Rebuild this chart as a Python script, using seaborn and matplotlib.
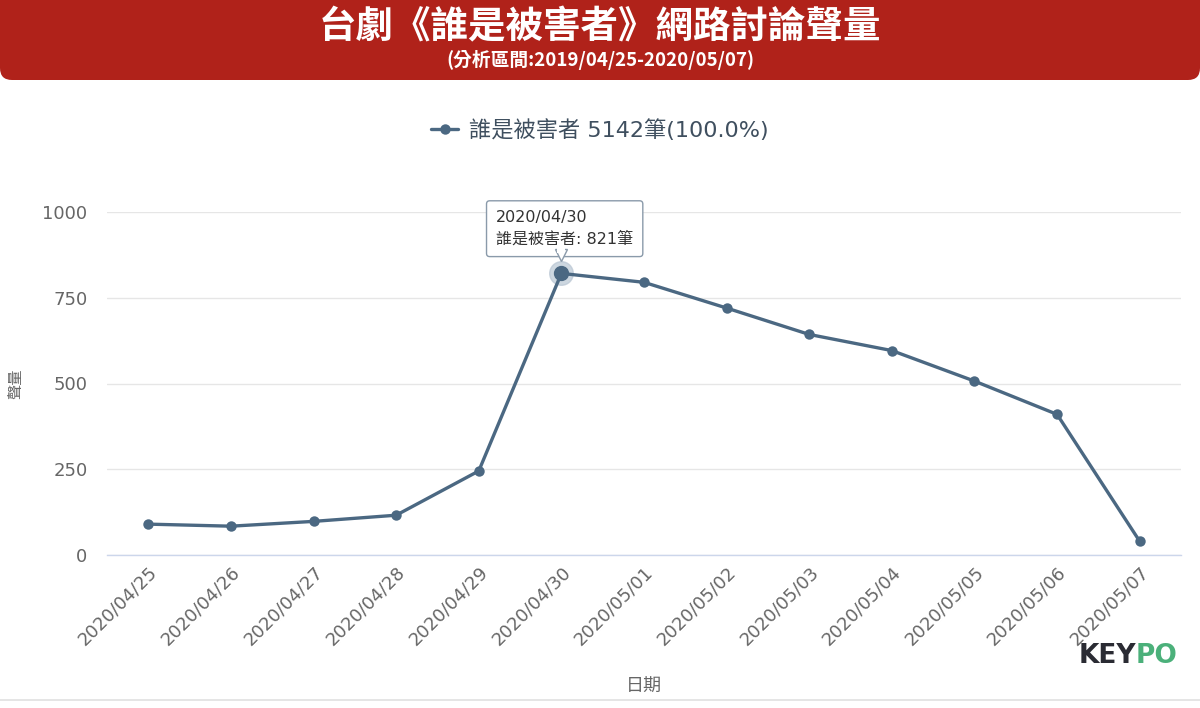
import matplotlib
matplotlib.use("Agg")
import matplotlib.pyplot as plt
from matplotlib.patches import FancyBboxPatch
from matplotlib.ticker import FixedLocator
from matplotlib.lines import Line2D
from matplotlib.transforms import ScaledTranslation
import pandas as pd
import seaborn as sns

# data
dates = ['2020/04/25', '2020/04/26', '2020/04/27', '2020/04/28', '2020/04/29',
         '2020/04/30', '2020/05/01', '2020/05/02', '2020/05/03', '2020/05/04',
         '2020/05/05', '2020/05/06', '2020/05/07']
volume = [90, 84, 98, 116, 245, 821, 795, 720, 643, 596, 507, 410, 40]
series_name = '誰是被害者'
total = 5142
peak_idx = 5

title = '台劇《誰是被害者》網路討論聲量'
subtitle = '(分析區間:2019/04/25-2020/05/07)'

line_color = '#4b6882'
text_gray = '#666666'

sns.set_style('white')
plt.rcParams['font.family'] = ['DejaVu Sans', 'Noto Sans CJK TC']

df = pd.DataFrame({'日期': dates, '聲量': volume})

fig = plt.figure(figsize=(12, 7.08), dpi=100)
ax = fig.add_axes([107 / 1200, 1 - 555 / 708, 1074 / 1200, 343 / 708])

sns.lineplot(data=df, x='日期', y='聲量', ax=ax, color=line_color,
             linewidth=2.4, marker='o', markersize=7.5, markeredgewidth=0,
             label=series_name)

# hover halo on peak
ax.plot(peak_idx, volume[peak_idx], 'o', markersize=17, color='#b9c6d3',
        alpha=0.7, zorder=1)
ax.plot(peak_idx, volume[peak_idx], 'o', markersize=10, color=line_color,
        zorder=4)

ax.set_xlim(-0.5, len(dates) - 0.5)
ax.set_ylim(0, 1000)
ax.set_yticks([0, 250, 500, 750, 1000])
ax.yaxis.grid(True, color='#e6e6e6', linewidth=1)
ax.xaxis.grid(False)
for s in ['top', 'right', 'left']:
    ax.spines[s].set_visible(False)
ax.spines['bottom'].set_color('#ccd6eb')
ax.spines['bottom'].set_linewidth(1)

ax.tick_params(axis='y', length=0, labelsize=13, labelcolor=text_gray, pad=14)
ax.tick_params(axis='x', which='major', length=0, labelsize=13,
               labelcolor=text_gray, pad=6)
ax.xaxis.set_minor_locator(FixedLocator([i - 0.5 for i in range(len(dates) + 1)]))
ax.tick_params(axis='x', which='minor', length=10, color='#ccd6eb', width=1)
plt.setp(ax.get_xticklabels(), rotation=45, ha='right', rotation_mode='anchor')

ax.set_xlabel('日期', fontsize=13, color=text_gray,
              family=['Noto Sans CJK TC'])
ax.xaxis.set_label_coords(0.5, -(687 - 555) / 343, transform=ax.transAxes)
ax.xaxis.label.set_va('center')
ax.set_ylabel('聲量', fontsize=11, color=text_gray,
              family=['Noto Sans CJK TC'])
ax.yaxis.set_label_coords(-0.077, 0.5)

# legend
handle = Line2D([], [], color=line_color, linewidth=2.4, marker='o',
                markersize=7.5, markeredgewidth=0)
leg = ax.legend([handle], [f'{series_name} {total}筆(100.0%)'], loc='center',
                bbox_to_anchor=(0.5, 1 - 130 / 708), bbox_transform=fig.transFigure,
                frameon=False, fontsize=16, handlelength=1.2, handletextpad=0.5)
for t in leg.get_texts():
    t.set_color('#3f4f5f')

# tooltip
ax.annotate(f'{dates[peak_idx]}\n{series_name}: {volume[peak_idx]}筆',
            xy=(peak_idx, volume[peak_idx]), xytext=(-47, 19),
            textcoords='offset points', fontsize=11.5, color='#333333',
            linespacing=1.5, va='bottom', ha='left',
            bbox=dict(boxstyle='round,pad=0.6,rounding_size=0.2',
                      fc='white', ec='#8a9aaa', lw=1),
            zorder=6)
# tooltip pointer
ax.plot(peak_idx, volume[peak_idx], marker='v', markersize=9, color='white',
        markeredgecolor='#8a9aaa', markeredgewidth=1, zorder=7, linestyle='none',
        transform=ax.transData + ScaledTranslation(0, 13.5 / 72, fig.dpi_scale_trans))
ax.plot(peak_idx, volume[peak_idx], marker='s', markersize=6, color='white',
        markeredgewidth=0, zorder=8, linestyle='none',
        transform=ax.transData + ScaledTranslation(0, 17.5 / 72, fig.dpi_scale_trans))

# red header banner
banner = FancyBboxPatch((0.0, 7.08 - 0.80), 12.0, 1.6,
                        boxstyle='round,pad=0,rounding_size=0.12',
                        transform=fig.dpi_scale_trans, fc='#b0221a', ec='none',
                        zorder=0)
fig.patches.append(banner)
fig.text(0.5, 1 - 27 / 708, title, ha='center', va='center', color='white',
         fontsize=27, fontweight='bold', family=['Noto Sans CJK TC'])
fig.text(0.5, 1 - 60 / 708, subtitle, ha='center', va='center', color='white',
         fontsize=13.5, fontweight='bold', family=['Noto Sans CJK TC'])

# bottom rule
fig.add_artist(Line2D([0, 1], [1 - 700 / 708] * 2, transform=fig.transFigure,
                      color='#e0e0e0', linewidth=1.2))

# logo
fig.text(1136 / 1200, 1 - 656 / 708, 'KEY', ha='right', va='center',
         color='#2a2b33', fontsize=19, fontweight='bold', family=['DejaVu Sans'])
fig.text(1136 / 1200, 1 - 656 / 708, 'PO', ha='left', va='center',
         color='#4bb07a', fontsize=19, fontweight='bold', family=['DejaVu Sans'])

fig.savefig('out.png', dpi=100)
